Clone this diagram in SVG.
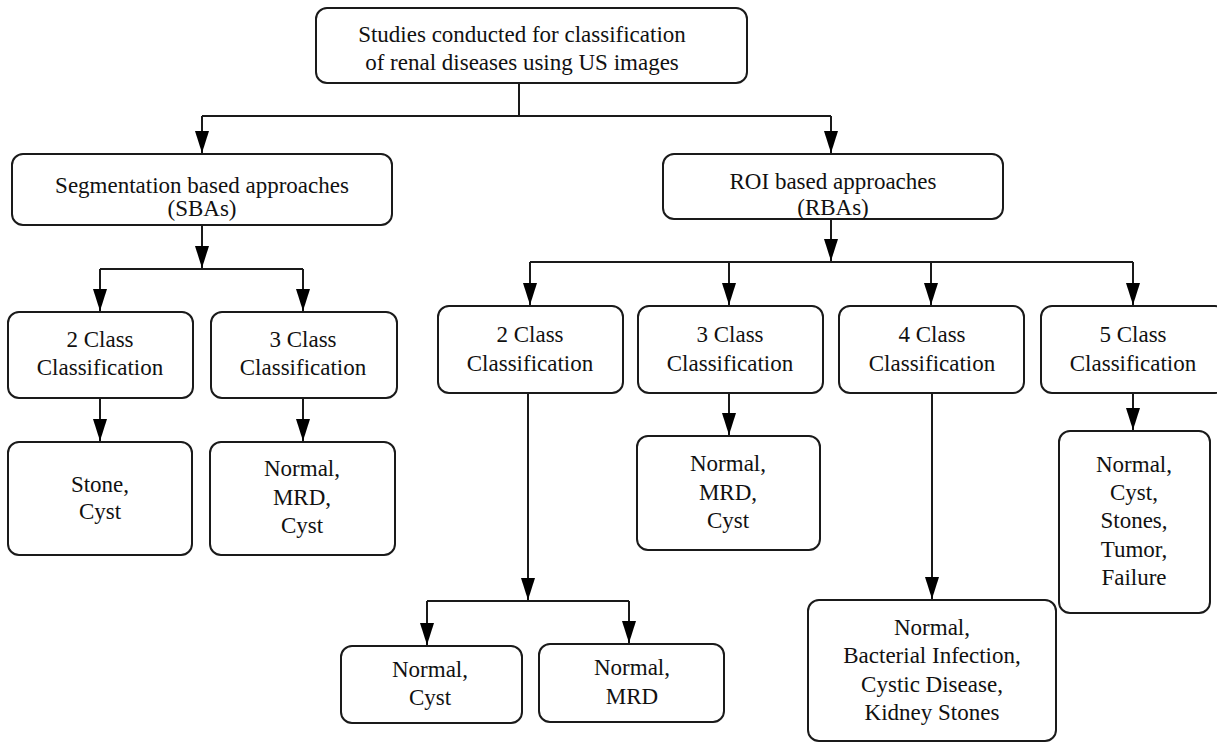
<svg xmlns="http://www.w3.org/2000/svg" width="1217" height="744" viewBox="0 0 1217 744">
  <style>
    .box { fill: #ffffff; stroke: #1a1a1a; stroke-width: 2; }
    .lbl { font-size: 23px; fill: #111111; text-anchor: middle; }
    .edge { fill: none; stroke: #1a1a1a; stroke-width: 2; }
    .arr { marker-end: url(#head); }
  </style>
  <defs>
    <!-- filled arrowhead pointing along the path direction, tip at the path end -->
    <marker id="head" markerUnits="userSpaceOnUse" markerWidth="22" markerHeight="14" viewBox="0 0 22 14" refX="22" refY="7" orient="auto">
      <path d="M0,0 L22,7 L0,14 Z" fill="#000000"/>
    </marker>
  </defs>
  <rect width="1217" height="744" fill="#ffffff"/>

  <!-- connectors -->
  <g id="connectors">
    <path class="edge" d="M519,83 V116 M202,116 H831"/>
    <path class="edge arr" d="M202,116 V153"/>
    <path class="edge arr" d="M831,116 V153"/>

    <path class="edge arr" d="M202,225 V268"/>
    <path class="edge" d="M100,269 H303"/>
    <path class="edge arr" d="M100,269 V311"/>
    <path class="edge arr" d="M303,269 V311"/>
    <path class="edge arr" d="M100,398 V441"/>
    <path class="edge arr" d="M303,398 V441"/>

    <path class="edge arr" d="M831,219 V261"/>
    <path class="edge" d="M530,262 H1133"/>
    <path class="edge arr" d="M530,262 V305"/>
    <path class="edge arr" d="M729,262 V305"/>
    <path class="edge arr" d="M931,262 V305"/>
    <path class="edge arr" d="M1133,262 V305"/>

    <path class="edge arr" d="M528,393 V600"/>
    <path class="edge" d="M427,601 H629"/>
    <path class="edge arr" d="M427,601 V645"/>
    <path class="edge arr" d="M629,601 V643"/>
    <path class="edge arr" d="M729,393 V435"/>
    <path class="edge arr" d="M932,393 V599"/>
    <path class="edge arr" d="M1133,393 V430"/>
  </g>

  <!-- nodes -->
  <g id="nodes" font-family="Liberation Serif, Times New Roman, Times, serif">
  <g id="root">
    <rect class="box" x="316" y="8" width="431" height="75" rx="11"/>
    <text class="lbl" x="522" y="42">Studies conducted for classification</text>
    <text class="lbl" x="522" y="70">of renal diseases using US images</text>
  </g>

  <g id="sba">
    <rect class="box" x="12" y="154" width="380" height="71" rx="11"/>
    <text class="lbl" x="202" y="193">Segmentation based approaches</text>
    <text class="lbl" x="202" y="216">(SBAs)</text>
  </g>

  <g id="rba">
    <rect class="box" x="663" y="154" width="340" height="65" rx="11"/>
    <text class="lbl" x="833" y="189">ROI based approaches</text>
    <text class="lbl" x="833" y="215">(RBAs)</text>
  </g>

  <g id="sba-2class">
    <rect class="box" x="8" y="312" width="185" height="86" rx="11"/>
    <text class="lbl" x="100" y="347">2 Class</text>
    <text class="lbl" x="100" y="375">Classification</text>
  </g>

  <g id="sba-3class">
    <rect class="box" x="211" y="312" width="186" height="86" rx="11"/>
    <text class="lbl" x="303" y="347">3 Class</text>
    <text class="lbl" x="303" y="375">Classification</text>
  </g>

  <g id="sba-2class-out">
    <rect class="box" x="8" y="442" width="184" height="113" rx="11"/>
    <text class="lbl" x="100" y="492">Stone,</text>
    <text class="lbl" x="100" y="519">Cyst</text>
  </g>

  <g id="sba-3class-out">
    <rect class="box" x="210" y="442" width="185" height="113" rx="11"/>
    <text class="lbl" x="302" y="476">Normal,</text>
    <text class="lbl" x="302" y="505">MRD,</text>
    <text class="lbl" x="302" y="533">Cyst</text>
  </g>

  <g id="rba-2class">
    <rect class="box" x="438" y="306" width="185" height="87" rx="11"/>
    <text class="lbl" x="530" y="342">2 Class</text>
    <text class="lbl" x="530" y="371">Classification</text>
  </g>

  <g id="rba-3class">
    <rect class="box" x="638" y="306" width="185" height="87" rx="11"/>
    <text class="lbl" x="730" y="342">3 Class</text>
    <text class="lbl" x="730" y="371">Classification</text>
  </g>

  <g id="rba-4class">
    <rect class="box" x="839" y="306" width="185" height="87" rx="11"/>
    <text class="lbl" x="932" y="342">4 Class</text>
    <text class="lbl" x="932" y="371">Classification</text>
  </g>

  <g id="rba-5class">
    <rect class="box" x="1041" y="306" width="185" height="87" rx="11"/>
    <text class="lbl" x="1133" y="342">5 Class</text>
    <text class="lbl" x="1133" y="371">Classification</text>
  </g>

  <g id="rba-3class-out">
    <rect class="box" x="637" y="436" width="183" height="114" rx="11"/>
    <text class="lbl" x="728" y="471">Normal,</text>
    <text class="lbl" x="728" y="500">MRD,</text>
    <text class="lbl" x="728" y="528">Cyst</text>
  </g>

  <g id="rba-5class-out">
    <rect class="box" x="1059" y="431" width="151" height="182" rx="11"/>
    <text class="lbl" x="1134" y="472">Normal,</text>
    <text class="lbl" x="1134" y="500">Cyst,</text>
    <text class="lbl" x="1134" y="528">Stones,</text>
    <text class="lbl" x="1134" y="557">Tumor,</text>
    <text class="lbl" x="1134" y="585">Failure</text>
  </g>

  <g id="rba-4class-out">
    <rect class="box" x="808" y="600" width="248" height="141" rx="11"/>
    <text class="lbl" x="932" y="635">Normal,</text>
    <text class="lbl" x="932" y="663">Bacterial Infection,</text>
    <text class="lbl" x="932" y="692">Cystic Disease,</text>
    <text class="lbl" x="932" y="720">Kidney Stones</text>
  </g>

  <g id="rba-2class-out-a">
    <rect class="box" x="341" y="646" width="181" height="77" rx="11"/>
    <text class="lbl" x="430" y="677">Normal,</text>
    <text class="lbl" x="430" y="705">Cyst</text>
  </g>

  <g id="rba-2class-out-b">
    <rect class="box" x="539" y="644" width="185" height="78" rx="11"/>
    <text class="lbl" x="632" y="675">Normal,</text>
    <text class="lbl" x="632" y="704">MRD</text>
  </g>
  </g>
</svg>
